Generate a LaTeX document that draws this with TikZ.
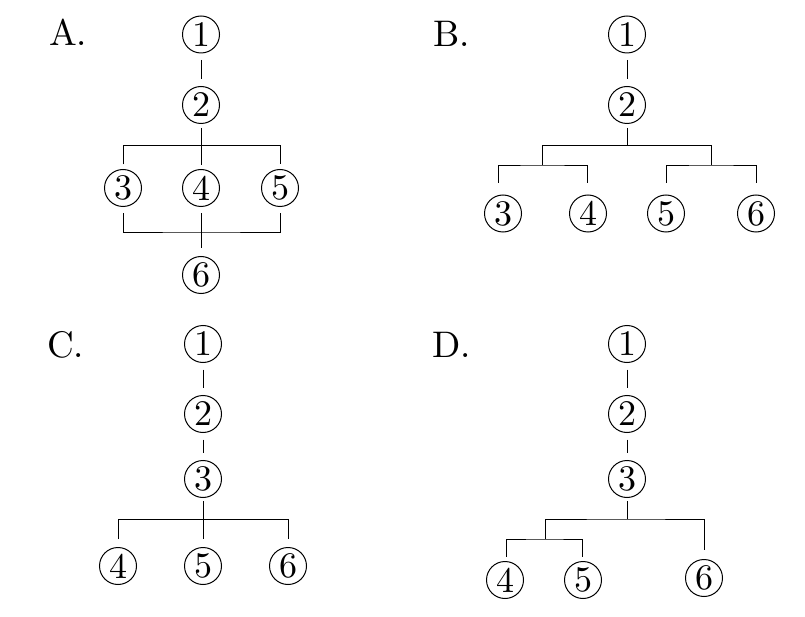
\documentclass[tikz,border=0pt]{standalone}
\usetikzlibrary{calc}
\newcommand{\bigdig}[1]{\scalebox{3.6}{\fontsize{10}{10}\selectfont #1}}
\newcommand{\biglbl}[1]{\scalebox{3.7}{\fontsize{10}{10}\selectfont #1}}
\begin{document}
\begin{tikzpicture}[x=1pt,y=-1pt,
  cnum/.style={circle, draw, line width=1pt, minimum size=37pt, inner sep=0pt},
  lbl/.style={anchor=base west, inner sep=0pt},
  ln/.style={line width=0.9pt},
  gap/.style={ln, shorten <=6.5pt, shorten >=7pt}]
\useasboundingbox (0,0) rectangle (805,617);
% ---------- A ----------
\node[lbl] (la) at (49,46) {\biglbl{A.}};
\node[cnum] (a1) at (201,34.5) {\bigdig{1}};
\node[cnum] (a2) at (201,105) {\bigdig{2}};
\node[cnum] (a3) at (123,188) {\bigdig{3}};
\node[cnum] (a4) at (201,188) {\bigdig{4}};
\node[cnum] (a5) at (280,188) {\bigdig{5}};
\node[cnum] (a6) at (201,275) {\bigdig{6}};
\draw[gap] (a1) -- (a2);
\draw[ln] ($(a2.south)+(0,4)$) -- ($(a4.north)+(0,-4)$);
\draw[ln] ($(a3.north)+(0,-4.5)$) |- ($(a4.north)+(0,-23.5)$) -| ($(a5.north)+(0,-4.5)$);
\draw[ln] ($(a3.south)+(0,6.5)$) |- ($(a6.north)+(0,-24)$) -| ($(a5.south)+(0,6.5)$);
\draw[ln] ($(a4.south)+(0,6.5)$) -- ($(a6.north)+(0,-8)$);
% ---------- B ----------
\node[lbl] (lb) at (433,47) {\biglbl{B.}};
\node[cnum] (b1) at (627,34.5) {\bigdig{1}};
\node[cnum] (b2) at (627,105) {\bigdig{2}};
\node[cnum] (b3) at (503,213.5) {\bigdig{3}};
\node[cnum] (b4) at (588,213.5) {\bigdig{4}};
\node[cnum] (b5) at (666,213.5) {\bigdig{5}};
\node[cnum] (b6) at (756,213.5) {\bigdig{6}};
\coordinate (bj) at (627,145.5);
\coordinate (bl) at (542,165);
\coordinate (br) at (711,165);
\draw[gap] (b1) -- (b2);
\draw[ln] ($(b2.south)+(0,4)$) -- (bj);
\draw[ln] (bl) |- (bj) -| (br);
\draw[ln] ($(b3.north)+(-5,-11.5)$) |- (bl) -| ($(b4.north)+(-1,-11.5)$);
\draw[ln] ($(b5.north)+(0,-11.5)$) |- (br) -| ($(b6.north)+(0,-11.5)$);
% ---------- C ----------
\node[lbl] (lc) at (47,357) {\biglbl{C.}};
\node[cnum] (c1) at (203,344) {\bigdig{1}};
\node[cnum] (c2) at (203,414) {\bigdig{2}};
\node[cnum] (c3) at (203,479) {\bigdig{3}};
\node[cnum] (c4) at (118,566) {\bigdig{4}};
\node[cnum] (c5) at (203,566) {\bigdig{5}};
\node[cnum] (c6) at (288,566) {\bigdig{6}};
\draw[gap] (c1) -- (c2);
\draw[gap] (c2) -- (c3);
\draw[ln] ($(c3.south)+(0,3)$) -- ($(c5.north)+(0,-8)$);
\draw[ln] ($(c4.north)+(0,-8)$) |- ($(c5.north)+(0,-27.5)$) -| ($(c6.north)+(0,-8)$);
% ---------- D ----------
\node[lbl] (ld) at (432,357) {\biglbl{D.}};
\node[cnum] (d1) at (627,344) {\bigdig{1}};
\node[cnum] (d2) at (627,414) {\bigdig{2}};
\node[cnum] (d3) at (627,479) {\bigdig{3}};
\node[cnum] (d4) at (505,580) {\bigdig{4}};
\node[cnum] (d5) at (583,580) {\bigdig{5}};
\node[cnum] (d6) at (704,578) {\bigdig{6}};
\coordinate (dj) at (627,519);
\coordinate (dl) at (545,539);
\draw[gap] (d1) -- (d2);
\draw[gap] (d2) -- (d3);
\draw[ln] ($(d3.south)+(0,3)$) -- (dj);
\draw[ln] (dl) |- (dj) -| ($(d6.north)+(0,-9)$);
\draw[ln] ($(d4.north)+(1,-4.5)$) |- (dl) -| ($(d5.north)+(-1,-4.5)$);
\end{tikzpicture}
\end{document}
